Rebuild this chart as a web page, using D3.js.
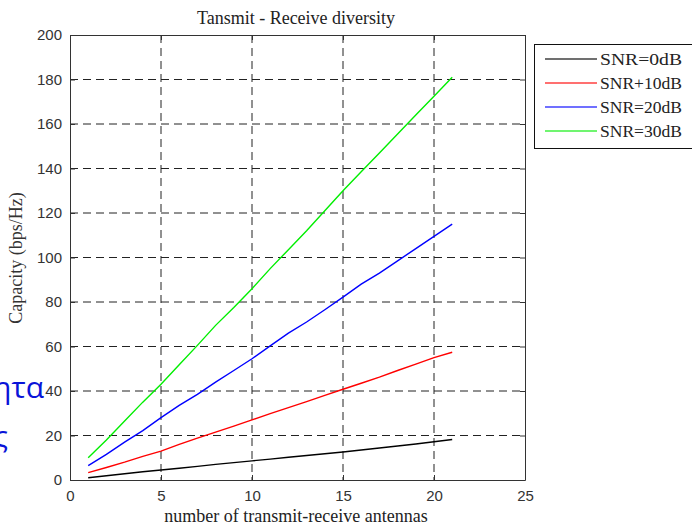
<!DOCTYPE html>
<html>
<head>
<meta charset="utf-8">
<script src="https://cdn.jsdelivr.net/npm/d3@7"></script>
<style>
  html, body { margin: 0; padding: 0; background: #fff; }
  svg { display: block; }
</style>
</head>
<body>
<svg id="chart" width="692" height="529"></svg>
<script>
// Number of transmit = receive antennas
const antennas = d3.range(1, 22);

// Capacity (bps/Hz) per SNR level
const snr0  = [1.0, 1.9, 2.8, 3.7, 4.5, 5.3, 6.1, 7.0, 7.8, 8.6, 9.4, 10.2, 11.0, 11.8, 12.6, 13.5, 14.4, 15.3, 16.2, 17.2, 18.2];
const snr10 = [3.3, 5.6, 8.0, 10.6, 13.0, 16.0, 18.8, 21.5, 24.2, 27.0, 29.8, 32.5, 35.2, 38.0, 40.8, 43.5, 46.2, 49.2, 52.1, 55.0, 57.4];
const snr20 = [6.5, 11.5, 17.0, 22.2, 28.0, 33.5, 38.5, 44.0, 49.2, 54.5, 60.3, 66.0, 71.0, 76.5, 82.2, 88.0, 93.0, 98.5, 104.0, 109.5, 115.0];
const snr30 = [10.0, 18.0, 26.5, 35.0, 43.0, 51.8, 60.5, 69.5, 77.5, 86.0, 95.0, 103.5, 112.0, 121.0, 130.0, 138.5, 147.0, 155.5, 164.0, 172.5, 181.0];

const seriesNames  = ["SNR=0dB", "SNR+10dB", "SNR=20dB", "SNR=30dB"];
const seriesValues = [snr0, snr10, snr20, snr30];
const seriesColors = ["#000000", "#ff0000", "#0000ff", "#00ee00"];

const xTicks = [0, 5, 10, 15, 20, 25];
const yTicks = [0, 20, 40, 60, 80, 100, 120, 140, 160, 180, 200];

const svg = d3.select("#chart");
const plotLeft = 70, plotRight = 525, plotTop = 35, plotBottom = 480;

const x = d3.scaleLinear().domain([0, 25]).range([plotLeft, plotRight]);
const y = d3.scaleLinear().domain([0, 200]).range([plotBottom, plotTop]);

const axisColor = "#333";
const sans = "'Liberation Sans', Arial, sans-serif";
const serif = "'Liberation Serif', 'Times New Roman', serif";

// Dashed grid
const grid = svg.append("g");
grid.selectAll("line.gx").data(xTicks.filter(d => d > 0 && d < 25)).join("line")
  .attr("x1", d => x(d)).attr("x2", d => x(d))
  .attr("y1", plotTop).attr("y2", plotBottom)
  .attr("stroke", "#222").attr("stroke-width", 1).attr("stroke-dasharray", "8,5");
grid.selectAll("line.gy").data(yTicks.filter(d => d > 0 && d < 200)).join("line")
  .attr("x1", plotLeft).attr("x2", plotRight)
  .attr("y1", d => y(d)).attr("y2", d => y(d))
  .attr("stroke", "#222").attr("stroke-width", 1).attr("stroke-dasharray", "8,5");

// Series lines
const line = d3.line().x((d, i) => x(antennas[i])).y(d => y(d));
svg.append("g").selectAll("path").data(seriesValues).join("path")
  .attr("d", d => line(d))
  .attr("fill", "none")
  .attr("stroke", (d, i) => seriesColors[i])
  .attr("stroke-width", 1.4);

// Axes with inward ticks on all four sides
function styleAxis(g) {
  g.select(".domain").attr("stroke", axisColor);
  g.selectAll(".tick line").attr("stroke", axisColor);
}
svg.append("g").attr("transform", `translate(0,${plotBottom})`)
  .call(d3.axisBottom(x).tickValues(xTicks).tickSizeInner(-5).tickSizeOuter(0).tickPadding(10))
  .call(styleAxis)
  .call(g => g.selectAll("text").attr("fill", axisColor).style("font-family", sans).style("font-size", "15px"));
svg.append("g").attr("transform", `translate(0,${plotTop})`)
  .call(d3.axisTop(x).tickValues(xTicks).tickSizeInner(-5).tickSizeOuter(0).tickFormat(""))
  .call(styleAxis);
svg.append("g").attr("transform", `translate(${plotLeft},0)`)
  .call(d3.axisLeft(y).tickValues(yTicks).tickSizeInner(-5).tickSizeOuter(0).tickPadding(8))
  .call(styleAxis)
  .call(g => g.selectAll("text").attr("fill", axisColor).style("font-family", sans).style("font-size", "15px"));
svg.append("g").attr("transform", `translate(${plotRight},0)`)
  .call(d3.axisRight(y).tickValues(yTicks).tickSizeInner(-5).tickSizeOuter(0).tickFormat(""))
  .call(styleAxis);

// Title and axis labels
svg.append("text").attr("x", 296).attr("y", 24).attr("text-anchor", "middle")
  .style("font-family", serif).style("font-size", "18px").attr("fill", "#222")
  .text("Tansmit - Receive diversity");
svg.append("text").attr("x", 296).attr("y", 522).attr("text-anchor", "middle")
  .style("font-family", serif).style("font-size", "18px").attr("fill", "#222")
  .text("number of transmit-receive antennas");
svg.append("text").attr("transform", "translate(22,258) rotate(-90)").attr("text-anchor", "middle")
  .style("font-family", serif).style("font-size", "18px").attr("fill", "#333")
  .text("Capacity (bps/Hz)");

// Legend
const lg = svg.append("g");
lg.append("rect").attr("x", 534.5).attr("y", 44.5).attr("width", 170).attr("height", 104)
  .attr("fill", "#fff").attr("stroke", "#111").attr("stroke-width", 1);
const items = lg.selectAll("g.item").data(seriesNames).join("g")
  .attr("transform", (d, i) => `translate(0,${59 + i * 24})`);
items.append("line").attr("x1", 545).attr("x2", 597).attr("y1", 0).attr("y2", 0)
  .attr("stroke", (d, i) => seriesColors[i]).attr("stroke-width", 1.4).attr("stroke-opacity", 0.75);
items.append("text").attr("x", 600).attr("y", 5.5)
  .style("font-family", serif).style("font-size", "17px").attr("fill", "#222")
  .attr("textLength", 82).attr("lengthAdjust", "spacingAndGlyphs")
  .text(d => d);

// Slide text overlapping the left edge
svg.append("text").attr("x", 44).attr("y", 398).attr("text-anchor", "end")
  .style("font-family", "'Open Sans', 'Noto Sans', sans-serif").style("font-size", "30px").attr("fill", "#0a14d8")
  .text("ητα");
svg.append("text").attr("x", 8).attr("y", 447).attr("text-anchor", "end")
  .style("font-family", "'Open Sans', 'Noto Sans', sans-serif").style("font-size", "30px").attr("fill", "#0a14d8")
  .text("ς");
</script>
</body>
</html>
